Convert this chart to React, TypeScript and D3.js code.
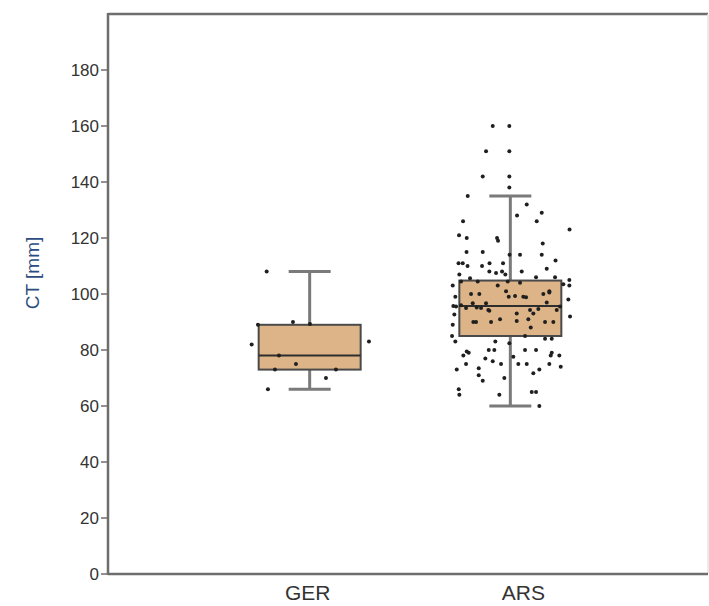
import React from "react";
import * as d3 from "d3";

const categories = ["GER", "ARS"];
const q1 = [73, 85];
const median = [78, 95.7];
const q3 = [89, 104.8];
const whiskerLow = [66, 60];
const whiskerHigh = [108, 135];
const yTicks = [0, 20, 40, 60, 80, 100, 120, 140, 160, 180];

const gerPoints: [number, number][] = [
  [266.7, 108], [293, 90], [258, 89], [310, 89.3], [251.7, 82], [369, 83],
  [279, 78], [296, 75], [275, 73], [336, 73], [326, 70], [268, 66],
];
const arsPoints: [number, number][] = [
  [492.7, 160], [509.3, 160], [486, 151], [509.3, 151], [482.7, 142], [509.3, 142],
  [509.3, 138], [467.7, 135], [526.7, 132], [541.7, 129], [517, 128], [536.7, 126],
  [463, 126], [569.5, 123], [459, 121], [466.7, 120], [497, 120], [498, 119],
  [542.7, 118], [466.5, 115], [482.7, 115], [509.5, 114], [520, 114], [541.7, 114],
  [555.5, 112], [458.5, 111], [462.7, 111], [467.5, 110], [482, 110], [489.5, 111],
  [503, 111], [546.7, 109], [459.3, 107], [489.3, 108], [496, 107.5], [502, 108],
  [505.3, 107], [521.7, 108], [536, 106], [555, 106], [569.3, 105], [461, 104.5],
  [470, 105.6], [477.7, 104.5], [507.7, 104.5], [520, 104], [452.7, 103], [497.7, 103],
  [563.3, 103.5], [569.3, 103], [506, 101], [549.3, 101], [455.3, 99], [471, 100],
  [479.3, 100], [508.7, 99], [543.3, 100], [515, 99.3], [523.3, 99], [526, 98.8],
  [549.3, 100.5], [546.7, 97], [568.3, 98], [461, 96], [472.7, 96.7], [486, 96.7],
  [560, 95.5], [456, 95.5], [466, 95], [481, 95], [489.3, 94], [453.3, 95.7],
  [476.7, 95.2], [488.3, 94.3], [516.7, 93], [530, 94.3], [538.3, 94.6], [556.7, 94.3],
  [454.3, 92.7], [533.3, 93], [570, 92], [476, 90], [491, 90], [500, 91],
  [528.3, 91], [545, 90], [473.3, 90], [516.7, 90.4], [553.3, 90], [452.7, 89],
  [530.7, 88], [452, 85], [525, 85], [545, 84], [551.7, 84], [455.3, 83],
  [495.3, 83], [509.3, 82.4], [488.7, 80], [494.3, 80], [525, 80], [536, 80],
  [466.7, 79.5], [468.7, 79], [551.7, 79], [550.7, 78], [559.3, 78], [463.3, 78],
  [513.3, 77.6], [485.3, 77], [492.7, 76], [501, 75], [466, 75], [518.3, 75],
  [526.7, 75], [549.3, 75], [560.7, 74], [456.7, 73], [478.7, 73.5], [539.3, 73],
  [478.7, 71], [533.3, 71.7], [482.7, 69], [504.3, 70], [458.7, 66], [459.3, 64],
  [499.3, 64], [531.7, 65], [536, 65], [539.3, 60],
];
const srcCenters = [309.7, 510.3];
const labelShift = [-2, 13];

const W = 709;
const H = 606;
const left = 108;
const right = 708;
const top = 14;
const bottom = 574;
const font = "Liberation Sans, Arial, sans-serif";

export default function App() {
  const y = d3.scaleLinear().domain([0, 200]).range([bottom, top]);
  const x = d3.scalePoint<string>().domain(categories).range([left + 1, right + 3]).padding(1);
  const boxHalf = 51;
  const capHalf = 21;
  const allPts = [gerPoints, arsPoints];

  return (
    <svg width={W} height={H} style={{ position: "absolute", left: 0, top: 0, background: "#fff" }}>
      {/* frame */}
      <line x1={left} x2={right} y1={top} y2={top} stroke="#6e6e6e" strokeWidth={2.5} />
      <line x1={right} x2={right} y1={top} y2={bottom} stroke="#e4e4e4" strokeWidth={1.5} />
      <line x1={left} x2={right} y1={bottom} y2={bottom} stroke="#6e6e6e" strokeWidth={2.5} />
      <line x1={left} x2={left} y1={top - 1} y2={bottom + 1} stroke="#6e6e6e" strokeWidth={2.5} />
      {yTicks.map((t) => (
        <g key={t}>
          <line x1={left - 7} x2={left} y1={y(t)} y2={y(t)} stroke="#6e6e6e" strokeWidth={1.5} />
          <text x={left - 9} y={y(t)} dy="0.36em" textAnchor="end" fontFamily={font} fontSize={17} fill="#333">
            {t}
          </text>
        </g>
      ))}
      <text
        transform={`translate(39, 273) rotate(-90)`}
        textAnchor="middle"
        fontFamily={font}
        fontSize={19}
        fill="#2b4c7e"
      >
        CT [mm]
      </text>
      {categories.map((c, i) => (
        <text key={c} x={(x(c) as number) + labelShift[i]} y={600} textAnchor="middle" fontFamily={font} fontSize={21} fill="#333">
          {c}
        </text>
      ))}
      {categories.map((c, i) => {
        const cx = x(c) as number;
        return (
          <g key={c}>
            <line x1={cx} x2={cx} y1={y(whiskerHigh[i])} y2={y(whiskerLow[i])} stroke="#7a7a7a" strokeWidth={3} />
            <line x1={cx - capHalf} x2={cx + capHalf} y1={y(whiskerHigh[i])} y2={y(whiskerHigh[i])} stroke="#7a7a7a" strokeWidth={3} />
            <line x1={cx - capHalf} x2={cx + capHalf} y1={y(whiskerLow[i])} y2={y(whiskerLow[i])} stroke="#7a7a7a" strokeWidth={3} />
            <rect
              x={cx - boxHalf}
              y={y(q3[i])}
              width={boxHalf * 2}
              height={y(q1[i]) - y(q3[i])}
              fill="#dcb487"
              stroke="#4a4a4a"
              strokeWidth={2}
            />
            <line x1={cx - boxHalf} x2={cx + boxHalf} y1={y(median[i])} y2={y(median[i])} stroke="#2e2e2e" strokeWidth={2} />
          </g>
        );
      })}
      {categories.map((c, i) => {
        const cx = x(c) as number;
        return (
          <g key={c + "pts"}>
            {allPts[i].map((p, j) => (
              <circle key={j} cx={cx + (p[0] - srcCenters[i])} cy={y(p[1])} r={2} fill="#1f1f1f" />
            ))}
          </g>
        );
      })}
    </svg>
  );
}
